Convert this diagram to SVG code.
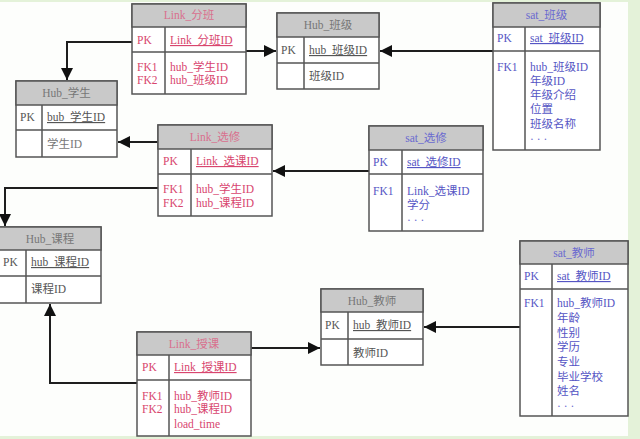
<svg xmlns="http://www.w3.org/2000/svg" width="640" height="439" viewBox="0 0 640 439">
<defs>
<style>
.bg{fill:#fdfefc}
.box{fill:#ffffff;stroke:#555;stroke-width:1.5}
.hd{fill:#c9c9c9;stroke:#555;stroke-width:1.5}
.ln{stroke:#555;stroke-width:1.5;fill:none}
text{font-family:"Liberation Serif","Noto Sans CJK SC",serif;font-size:11.5px}
.t{text-anchor:middle}
.hub{fill:#555}
.hubt{fill:#777}
.lk{fill:#d8456e}
.lkt{fill:#d9708e}
.st{fill:#5555c4}
.stt{fill:#6a6ad0}
.u{text-decoration:underline}
.c{stroke:#1e1e1e;stroke-width:2;fill:none}
</style>
<marker id="ah" markerUnits="userSpaceOnUse" markerWidth="13" markerHeight="12" refX="12" refY="6" orient="auto">
<path d="M0,0 L12,6 L0,12 z" fill="#111"/>
</marker>
</defs>
<rect class="bg" x="0" y="0" width="640" height="439"/>
<rect x="628" y="0" width="12" height="439" fill="#e4f2d9"/>
<rect x="0" y="0" width="640" height="2" fill="#e4f2d9"/>
<rect x="0" y="436" width="640" height="3" fill="#e4f2d9"/>

<g id="connectors">
<path class="c" d="M132,42 H67 V80" marker-end="url(#ah)"/>
<path class="c" d="M246,51 H276" marker-end="url(#ah)"/>
<path class="c" d="M493,51 H380" marker-end="url(#ah)"/>
<path class="c" d="M158,142 H118" marker-end="url(#ah)"/>
<path class="c" d="M369,171 H273" marker-end="url(#ah)"/>
<path class="c" d="M158,188 H5 V226" marker-end="url(#ah)"/>
<path class="c" d="M137,383 H50 V304" marker-end="url(#ah)"/>
<path class="c" d="M251,348 H320" marker-end="url(#ah)"/>
<path class="c" d="M520,327 H424" marker-end="url(#ah)"/>
</g>

<g id="link_fenban">
<rect class="box" x="132" y="4" width="114" height="90"/>
<rect class="hd" x="132" y="4" width="114" height="23"/>
<path class="ln" d="M132,52 H246 M165,27 V94"/>
<text class="t lkt" x="189" y="19">Link_分班</text>
<text class="lk" x="137" y="44">PK</text>
<text class="lk u" x="170" y="44">Link_分班ID</text>
<text class="lk" x="137" y="71">FK1</text>
<text class="lk" x="137" y="84">FK2</text>
<text class="lk" x="170" y="71">hub_学生ID</text>
<text class="lk" x="170" y="84">hub_班级ID</text>
</g>

<g id="hub_xuesheng">
<rect class="box" x="16" y="81" width="101" height="76"/>
<rect class="hd" x="16" y="81" width="101" height="24"/>
<path class="ln" d="M16,130 H117 M42,105 V157"/>
<text class="t hubt" x="66.5" y="97">Hub_学生</text>
<text class="hub" x="20" y="121">PK</text>
<text class="hub u" x="47" y="121">bub_学生ID</text>
<text class="hubt" x="47" y="148">学生ID</text>
</g>

<g id="hub_banji">
<rect class="box" x="277" y="13" width="102" height="76"/>
<rect class="hd" x="277" y="13" width="102" height="24"/>
<path class="ln" d="M277,63 H379 M304,37 V89"/>
<text class="t hubt" x="328" y="29">Hub_班级</text>
<text class="hub" x="281" y="54">PK</text>
<text class="hub u" x="309" y="54">hub_班级ID</text>
<text class="hub" x="309" y="80">班级ID</text>
</g>

<g id="sat_banji">
<rect class="box" x="493" y="3" width="107" height="147"/>
<rect class="hd" x="493" y="3" width="107" height="24"/>
<path class="ln" d="M493,51 H600 M525,27 V150"/>
<text class="t stt" x="546.5" y="19">sat_班级</text>
<text class="st" x="497" y="42">PK</text>
<text class="st u" x="530" y="42">sat_班级ID</text>
<text class="st" x="497" y="71">FK1</text>
<text class="st" x="530" y="71">hub_班级ID</text>
<text class="st" x="530" y="85">年级ID</text>
<text class="st" x="530" y="99">年级介绍</text>
<text class="st" x="530" y="113">位置</text>
<text class="st" x="530" y="128">班级名称</text>
<text class="stt" x="530" y="143">· · ·</text>
</g>

<g id="sat_xuanxiu">
<rect class="box" x="369" y="126" width="114" height="105"/>
<rect class="hd" x="369" y="126" width="114" height="24"/>
<path class="ln" d="M369,174 H483 M402,150 V231"/>
<text class="t stt" x="426" y="142">sat_选修</text>
<text class="st" x="373" y="166">PK</text>
<text class="st u" x="407" y="166">sat_选修ID</text>
<text class="st" x="373" y="195">FK1</text>
<text class="st" x="407" y="195">Link_选课ID</text>
<text class="st" x="407" y="209">学分</text>
<text class="stt" x="407" y="224">· · ·</text>
</g>

<g id="link_xuanxiu">
<rect class="box" x="158" y="125" width="114" height="91"/>
<rect class="hd" x="158" y="125" width="114" height="24"/>
<path class="ln" d="M158,174 H272 M191,149 V216"/>
<text class="t lkt" x="215" y="141">Link_选修</text>
<text class="lk" x="163" y="165">PK</text>
<text class="lk u" x="196" y="165">Link_选课ID</text>
<text class="lk" x="163" y="193">FK1</text>
<text class="lk" x="163" y="207">FK2</text>
<text class="lk" x="196" y="193">hub_学生ID</text>
<text class="lk" x="196" y="207">hub_课程ID</text>
</g>

<g id="hub_kecheng">
<rect class="box" x="-1" y="227" width="102" height="76"/>
<rect class="hd" x="-1" y="227" width="102" height="23"/>
<path class="ln" d="M-1,276 H101 M26,250 V303"/>
<text class="t hubt" x="50" y="243">Hub_课程</text>
<text class="hub" x="3" y="266">PK</text>
<text class="hub u" x="31" y="266">hub_课程ID</text>
<text class="hub" x="31" y="293">课程ID</text>
</g>

<g id="link_shouke">
<rect class="box" x="137" y="332" width="114" height="104"/>
<rect class="hd" x="137" y="332" width="114" height="23"/>
<path class="ln" d="M137,380 H251 M169,355 V436"/>
<text class="t lkt" x="194" y="348">Link_授课</text>
<text class="lk" x="142" y="371">PK</text>
<text class="lk u" x="174" y="371">Link_授课ID</text>
<text class="lk" x="142" y="400">FK1</text>
<text class="lk" x="142" y="413">FK2</text>
<text class="lk" x="174" y="400">hub_教师ID</text>
<text class="lk" x="174" y="413">hub_课程ID</text>
<text class="lk" x="174" y="428">load_time</text>
</g>

<g id="hub_jiaoshi">
<rect class="box" x="321" y="289" width="102" height="76"/>
<rect class="hd" x="321" y="289" width="102" height="23"/>
<path class="ln" d="M321,339 H423 M348,312 V365"/>
<text class="t hubt" x="372" y="305">Hub_教师</text>
<text class="hub" x="325" y="329">PK</text>
<text class="hub u" x="353" y="329">hub_教师ID</text>
<text class="hub" x="353" y="357">教师ID</text>
</g>

<g id="sat_jiaoshi">
<rect class="box" x="520" y="241" width="108" height="175"/>
<rect class="hd" x="520" y="241" width="108" height="23"/>
<path class="ln" d="M520,289 H628 M552,264 V416"/>
<text class="t stt" x="574" y="257">sat_教师</text>
<text class="st" x="524" y="280">PK</text>
<text class="st u" x="557" y="280">sat_教师ID</text>
<text class="st" x="524" y="307">FK1</text>
<text class="st" x="557" y="307">hub_教师ID</text>
<text class="st" x="557" y="322">年龄</text>
<text class="st" x="557" y="337">性别</text>
<text class="st" x="557" y="351">学历</text>
<text class="st" x="557" y="366">专业</text>
<text class="st" x="557" y="381">毕业学校</text>
<text class="st" x="557" y="395">姓名</text>
<text class="stt" x="557" y="410">· · ·</text>
</g>
</svg>
